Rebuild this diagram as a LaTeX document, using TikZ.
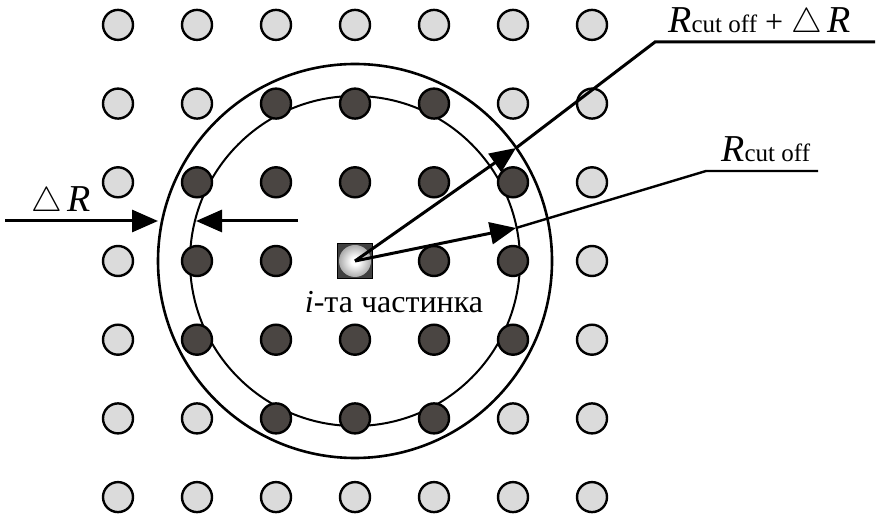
\documentclass[tikz,border=0pt]{standalone}
\usepackage{amsmath,amssymb}
\usepackage{fontspec}
\setmainfont{Liberation Serif}
\usepackage{tikz}
\usetikzlibrary{arrows.meta}
\usetikzlibrary{calc}
\usepackage{xcolor}

\definecolor{atomlight}{gray}{0.86}
\definecolor{atomdark}{RGB}{74,69,66}
\definecolor{coredark}{gray}{0.25}
\pgfdeclareradialshading{ballshade}{\pgfpoint{0bp}{0bp}}{color(0bp)=(white); color(6bp)=(white); color(50bp)=(coredark)}

\tikzset{
  far/.style={circle, draw, line width=1.2pt, fill=atomlight, minimum size=15pt, inner sep=0pt},
  near/.style={far, fill=atomdark},
  ray/.style={line width=1.5pt, -{Triangle[length=13pt,width=11pt]}},
  lead/.style={line width=1.5pt},
  lbl/.style={font=\fontsize{16}{19}\selectfont, inner sep=0pt},
}
\newcommand{\smalltxt}[1]{{\fontsize{12.5}{14}\selectfont #1}}
\newcommand{\bigR}{{\fontsize{19}{22}\selectfont\textit{R}}}

\begin{document}
\begin{tikzpicture}[x=0.5pt, y=-0.5pt]
			
			\useasboundingbox (0,0) rectangle (876,517);
			
			% cut-off spheres
			\draw[line width=1.3pt] (355,261) circle[radius=197];
			\draw[line width=1pt] (355,261) circle[radius=165];
			
			% lattice of particles
			\foreach \i in {-3,...,3}
			\foreach \j in {-3,...,3}{
				\pgfmathtruncatemacro{\kind}{((abs(\i)<=2)&&(abs(\j)<=2)&&(abs(\i)+abs(\j)<=3)) + ((\i==0)&&(\j==0))}
				\ifnum\kind=0
				\node[far] (p\i\j) at (355+79*\i, 261+78.7*\j) {};
				\fi
				\ifnum\kind=1
				\node[near] (p\i\j) at (355+79*\i, 261+78.7*\j) {};
				\fi
			}
			
			% i-th particle
			\node[draw, fill=coredark, minimum size=17.5pt, inner sep=0pt, line width=0.6pt] (ctr) at (355,261) {};
			\shade[shading=ballshade] (ctr.center) circle[radius=16];
			\node[lbl, anchor=base] (ctrname) at (394,313) {\textit{i}-та частинка};
			
			% Delta R between the spheres
			\coordinate (dRstart) at (5,221);
			\coordinate (outL) at (158,221);
			\coordinate (inL) at (196,221);
			\coordinate (dRend) at (298,221);
			\draw[ray] (dRstart) -- (outL);
			\draw[ray] (dRend) -- (inL);
			\node[lbl, anchor=base west] (dR) at (31,212) {$\triangle$\,\bigR};
			
			% outer radius
			\coordinate (tipO) at (516,148);
			\coordinate (kneeO) at (655,42);
			\coordinate (endO) at (875,42);
			\draw[ray] (ctr.center) -- (tipO);
			\draw[lead] (tipO) -- (kneeO) -- (endO);
			\node[lbl, anchor=base west] (lblO) at (668,33) {\bigR\smalltxt{cut off} + $\triangle$\,\bigR};
			
			% inner radius
			\coordinate (tipI) at (516,228);
			\coordinate (kneeI) at (706,171);
			\coordinate (endI) at (818,171);
			\draw[ray] (ctr.center) -- (tipI);
			\draw[lead, line width=1.2pt] (tipI) -- (kneeI) -- (endI);
			\node[lbl, anchor=base west] (lblI) at (721,162) {\bigR\smalltxt{cut off}};
			
		\end{tikzpicture}
\end{document}
